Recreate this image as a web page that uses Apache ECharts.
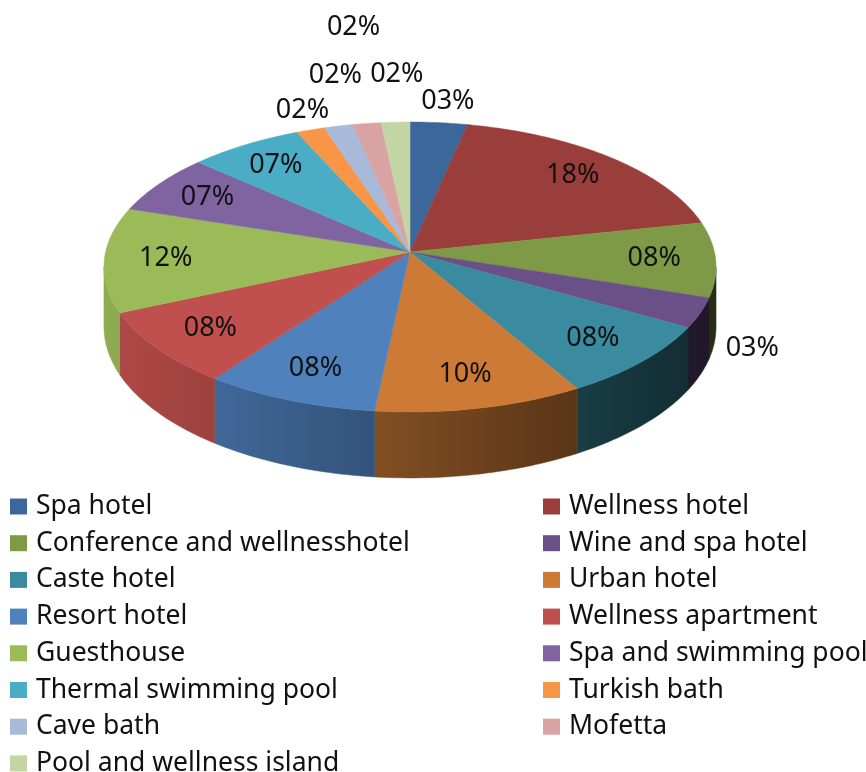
<!DOCTYPE html>
<html>
<head>
<meta charset="utf-8">
<script src="https://cdn.jsdelivr.net/npm/echarts@6/dist/echarts.min.js"></script>
<style>
  html, body { margin: 0; background: #fff; }
  #main { width: 866px; height: 772px; }
</style>
</head>
<body>
<div id="main"></div>
<script>
// hotel / bath types, counted (60 in total)
const categories = [
  'Spa hotel', 'Wellness hotel', 'Conference and wellnesshotel', 'Wine and spa hotel',
  'Caste hotel', 'Urban hotel', 'Resort hotel', 'Wellness apartment', 'Guesthouse',
  'Spa and swimming pool', 'Thermal swimming pool', 'Turkish bath', 'Cave bath',
  'Mofetta', 'Pool and wellness island'
];
const counts = [2, 11, 5, 2, 5, 6, 5, 5, 7, 4, 4, 1, 1, 1, 1];

const colors = [
  '#3c679b', '#9a3e3b', '#7e9a47', '#6a5086', '#3a8ba0', '#cc7a35',
  '#4f81bd', '#c0504d', '#9bbb59', '#8064a2', '#4bacc6', '#f79646',
  '#a9b9d9', '#d9a3a3', '#c3d5a3'
];

const FONT = '"Noto Sans", "Open Sans", sans-serif';
const total = counts.reduce((s, v) => s + v, 0);
const offsets = counts.map((v, i) => counts.slice(0, i).reduce((s, w) => s + w, 0));

// 3d look: tilted disc with a bit of perspective
const CX = 410, CY = 252, RX = 304.4, RY = 143.4, P = 0.1034, DEPTH = 66;
const FRONT0 = Math.acos(-P), FRONT1 = 2 * Math.PI - Math.acos(-P);

// labels that Excel pushed outside the pie, nudged from the rim point
const outsideNudge = [[9, -21], null, null, [52, 35], null, null, null, null, null, null, null,
  [-8, -20], [-3, -51], [30, -49], [-42, -95]];

function rim(t, f, drop) {
  const den = 1 + P * f * Math.cos(t);
  return [CX + RX * f * Math.sin(t) / den, CY - RY * f * Math.cos(t) / den + (drop || 0) * (1 - P) / den];
}

function shade(hex, k) {
  const n = parseInt(hex.slice(1), 16);
  const r = Math.round(((n >> 16) & 255) * k), g = Math.round(((n >> 8) & 255) * k), b = Math.round((n & 255) * k);
  return 'rgb(' + r + ',' + g + ',' + b + ')';
}
function sideK(x) {
  return 0.92 - 0.62 * (x - 104) / 609;
}

function pctText(v) {
  return String(Math.round(v / total * 100)).padStart(2, '0') + '%';
}

function drawSlice(i, api) {
  const value = api.value(0), offset = api.value(1);
  const t0 = offset / total * 2 * Math.PI, t1 = (offset + value) / total * 2 * Math.PI;
  const color = colors[i];
  const children = [];

  // side wall, only the part turned to the viewer
  const s0 = Math.max(t0, FRONT0), s1 = Math.min(t1, FRONT1);
  if (s1 > s0) {
    const n = Math.max(2, Math.ceil((s1 - s0) / 0.02));
    const up = [], low = [];
    for (let k = 0; k <= n; k++) {
      const t = s0 + (s1 - s0) * k / n;
      up.push(rim(t, 1, 0));
      low.push(rim(t, 1, DEPTH));
    }
    const pts = up.concat(low.reverse());
    const xa = Math.min(up[0][0], up[n][0]), xb = Math.max(up[0][0], up[n][0]);
    children.push({
      type: 'polygon',
      shape: { points: pts },
      style: {
        fill: {
          type: 'linear', x: xa, y: 0, x2: xb + 0.01, y2: 0, global: true,
          colorStops: [{ offset: 0, color: shade(color, sideK(xa)) }, { offset: 1, color: shade(color, sideK(xb)) }]
        },
        stroke: shade(color, sideK((xa + xb) / 2)), lineWidth: 0.5
      }
    });
  }

  // top face
  const n = Math.max(2, Math.ceil((t1 - t0) / 0.02));
  const top = [[CX, CY]];
  for (let k = 0; k <= n; k++) top.push(rim(t0 + (t1 - t0) * k / n, 1, 0));
  children.push({
    type: 'polygon',
    shape: { points: top },
    style: { fill: color, stroke: color, lineWidth: 0.5 }
  });

  // percent label
  const mid = (t0 + t1) / 2;
  let pos;
  if (outsideNudge[i]) {
    const r = rim(mid, 1, 0);
    pos = [r[0] + outsideNudge[i][0], r[1] + outsideNudge[i][1]];
  } else {
    pos = rim(mid, 0.8, 0);
  }
  children.push({
    type: 'text', x: pos[0], y: pos[1], z2: 100,
    style: { text: pctText(value), fill: '#111', font: '27px ' + FONT, align: 'center', verticalAlign: 'middle' }
  });

  return { type: 'group', children: children };
}

const legendBase = {
  orient: 'vertical',
  top: 493,
  height: 300,
  padding: 0,
  icon: 'rect',
  itemWidth: 17,
  itemHeight: 16,
  itemGap: 9.7,
  selectedMode: false,
  textStyle: { fontFamily: FONT, fontSize: 26.5, color: '#111', padding: [0, 0, 0, 4] }
};

const chart = echarts.init(document.getElementById('main'));
const option = {
  backgroundColor: '#fff',
  animation: false,
  legend: [
    Object.assign({}, legendBase, { left: 10, data: categories.filter((c, i) => i % 2 === 0) }),
    Object.assign({}, legendBase, { left: 543, data: categories.filter((c, i) => i % 2 === 1) })
  ],
  series: categories.map((name, i) => ({
    type: 'custom',
    name: name,
    coordinateSystem: 'none',
    silent: true,
    itemStyle: { color: colors[i] },
    data: [[counts[i], offsets[i]]],
    renderItem: (params, api) => drawSlice(i, api)
  }))
};
option && chart.setOption(option);
</script>
</body>
</html>
